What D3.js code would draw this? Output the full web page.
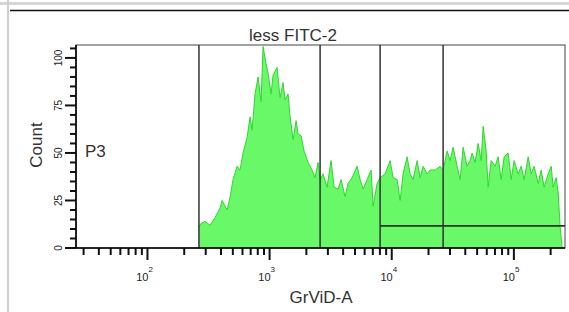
<!DOCTYPE html>
<html>
<head>
<meta charset="utf-8">
<script src="https://cdn.jsdelivr.net/npm/d3@7"></script>
<style>
  body { margin: 0; background: #fff; }
  text { font-family: "Liberation Sans", Arial, sans-serif; }
</style>
</head>
<body>
<div id="chart"></div>
<script>
// histogram: GrViD-A intensity vs count
const grvidA = [264, 275, 296, 325, 358, 393, 408, 449, 475, 502, 542, 573, 606, 654, 692, 719, 760, 805, 852, 884,
  936, 972, 1028, 1068, 1151, 1218, 1289, 1339, 1417, 1471, 1557, 1648, 1711, 1810, 1916, 2066, 2227, 2357, 2495, 2591,
  2741, 2956, 3187, 3373, 3637, 3849, 4150, 4392, 4736, 5204, 5508, 5829, 6285, 6778, 7038, 7590, 8031, 8824, 9698, 10260,
  11070, 11710, 12390, 13360, 14140, 14960, 16140, 17070, 18070, 19480, 20620, 22660, 24900, 26340, 28410, 30070, 31810, 34300, 36310, 38420,
  41430, 43850, 45530, 48170, 50970, 53950, 56020, 59290, 61570, 65150, 70250, 74340, 78660, 83240, 89760, 94990, 100500, 108400, 114700, 121400,
  130900, 138500, 146600, 158100, 167300, 177000, 190900, 202000, 209700, 221900, 230500, 239300, 248500];
const counts = [11, 13, 14, 12, 16, 21, 25, 20, 27, 36, 43, 41, 50, 58, 69, 62, 81, 90, 77, 106,
  97, 92, 81, 91, 95, 79, 87, 78, 81, 69, 57, 67, 60, 59, 51, 45, 41, 37, 45, 36,
  39, 32, 46, 32, 31, 36, 27, 34, 37, 43, 36, 31, 36, 41, 22, 34, 37, 39, 46, 37,
  36, 25, 39, 48, 39, 36, 46, 37, 43, 39, 41, 41, 43, 41, 51, 46, 53, 43, 36, 53,
  43, 46, 50, 45, 55, 46, 64, 51, 32, 46, 43, 48, 36, 48, 50, 36, 46, 39, 43, 36,
  48, 39, 43, 34, 41, 32, 39, 43, 32, 37, 29, 11, 0];

// gates
const gateX = [264, 2591, 8031, 26340];
const gateLevel = 11.6;

const yMajor = [0, 25, 50, 75, 100];
const xMajor = [100, 1000, 10000, 100000];
const xExp = ["2", "3", "4", "5"];

const W = 569, H = 312;
const pLeft = 76, pRight = 565, pTop = 45, pBottom = 248;

const svg = d3.select("#chart").append("svg")
    .attr("width", W)
    .attr("height", H);

// window frame
svg.append("rect").attr("x", 0).attr("y", 0).attr("width", W).attr("height", H).attr("fill", "#fff");
svg.append("rect").attr("x", 0).attr("y", 2).attr("width", W).attr("height", 3).attr("fill", "#d6d6d6");
svg.append("rect").attr("x", 7).attr("y", 0).attr("width", 2).attr("height", H).attr("fill", "#cfcfcf");
svg.append("line").attr("x1", 10).attr("x2", W).attr("y1", 10.5).attr("y2", 10.5)
    .attr("stroke", "#111").attr("stroke-width", 1.5);

const x = d3.scaleLog().domain([26, 262144]).range([pLeft, pRight]);
const y = d3.scaleLinear().domain([0, 106.8]).range([pBottom, pTop]);

const hist = grvidA.map((v, i) => ({v: v, c: counts[i]}));

// histogram fill
const area = d3.area()
    .x(d => x(d.v))
    .y0(y(0))
    .y1(d => y(d.c));
svg.append("path")
    .datum(hist)
    .attr("fill", "#68f868")
    .attr("d", area);

const line = d3.line()
    .x(d => x(d.v))
    .y(d => y(d.c));
svg.append("path")
    .datum(hist)
    .attr("fill", "none")
    .attr("stroke", "#2ed82e")
    .attr("stroke-width", 1)
    .attr("d", line);

// plot border
svg.append("rect")
    .attr("x", pLeft).attr("y", pTop)
    .attr("width", pRight - pLeft).attr("height", pBottom - pTop)
    .attr("fill", "none").attr("stroke", "#444").attr("stroke-width", 1);

// vertical gates
svg.selectAll(".gate")
    .data(gateX)
    .join("line")
    .attr("class", "gate")
    .attr("x1", d => x(d)).attr("x2", d => x(d))
    .attr("y1", pTop).attr("y2", pBottom)
    .attr("stroke", "#333").attr("stroke-width", 1.5);

// horizontal gate
svg.append("line")
    .attr("x1", x(gateX[2])).attr("x2", pRight)
    .attr("y1", y(gateLevel)).attr("y2", y(gateLevel))
    .attr("stroke", "#1a3a1a").attr("stroke-width", 1.8);

// x axis ticks (log minor + major)
const xMinor = [];
[10, 100, 1000, 10000, 100000].forEach(d => {
    for (let m = 2; m <= 9; m++) {
        if (m * d >= 26 && m * d <= 262144) xMinor.push(m * d);
    }
});

svg.selectAll(".xminor")
    .data(xMinor)
    .join("line")
    .attr("class", "xminor")
    .attr("x1", d => x(d)).attr("x2", d => x(d))
    .attr("y1", pBottom).attr("y2", pBottom + 7)
    .attr("stroke", "#111").attr("stroke-width", 2);
svg.selectAll(".xmajor")
    .data(xMajor)
    .join("line")
    .attr("class", "xmajor")
    .attr("x1", d => x(d)).attr("x2", d => x(d))
    .attr("y1", pBottom).attr("y2", pBottom + 12)
    .attr("stroke", "#111").attr("stroke-width", 2);
svg.append("line")
    .attr("x1", pLeft - 11).attr("x2", pRight)
    .attr("y1", pBottom).attr("y2", pBottom)
    .attr("stroke", "#000").attr("stroke-width", 1.6);

svg.append("g").selectAll("text")
    .data(xMajor)
    .join("text")
    .attr("x", d => x(d) + 1)
    .attr("y", 281)
    .attr("text-anchor", "end")
    .attr("font-size", 11)
    .attr("fill", "#222")
    .text("10");
svg.append("g").selectAll("text")
    .data(xMajor)
    .join("text")
    .attr("x", d => x(d) + 1)
    .attr("y", 272)
    .attr("font-size", 8)
    .attr("fill", "#222")
    .text((d, i) => xExp[i]);

// y axis
const yMinor = d3.range(0, 106, 5).filter(v => v % 25 !== 0);
svg.selectAll(".yminor")
    .data(yMinor)
    .join("line")
    .attr("class", "yminor")
    .attr("x1", pLeft - 6).attr("x2", pLeft)
    .attr("y1", d => y(d)).attr("y2", d => y(d))
    .attr("stroke", "#111").attr("stroke-width", 2);
svg.selectAll(".ymajor")
    .data(yMajor)
    .join("line")
    .attr("class", "ymajor")
    .attr("x1", pLeft - 11).attr("x2", pLeft)
    .attr("y1", d => y(d)).attr("y2", d => y(d))
    .attr("stroke", "#111").attr("stroke-width", 2);
svg.append("line")
    .attr("x1", pLeft).attr("x2", pLeft)
    .attr("y1", pTop).attr("y2", pBottom)
    .attr("stroke", "#000").attr("stroke-width", 1.6);

svg.append("g").selectAll("text")
    .data(yMajor)
    .join("text")
    .attr("transform", d => `translate(62,${y(d)}) rotate(-90)`)
    .attr("text-anchor", "middle")
    .attr("font-size", 10)
    .attr("fill", "#222")
    .text(d => d);

// labels
svg.append("text")
    .attr("transform", "translate(42,145) rotate(-90)")
    .attr("text-anchor", "middle")
    .attr("font-size", 17)
    .attr("fill", "#333")
    .text("Count");

svg.append("text")
    .attr("x", 321).attr("y", 303)
    .attr("text-anchor", "middle")
    .attr("font-size", 17)
    .attr("fill", "#333")
    .text("GrViD-A");

svg.append("text")
    .attr("x", 293).attr("y", 41)
    .attr("text-anchor", "middle")
    .attr("font-size", 17)
    .attr("fill", "#333")
    .text("less FITC-2");

svg.append("text")
    .attr("x", 85).attr("y", 157)
    .attr("font-size", 17)
    .attr("fill", "#333")
    .text("P3");
</script>
</body>
</html>
